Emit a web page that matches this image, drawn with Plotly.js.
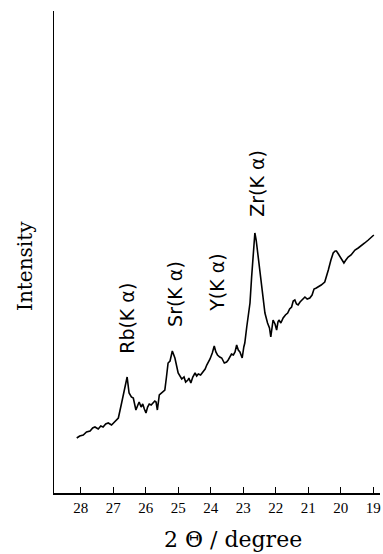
<!DOCTYPE html>
<html>
<head>
<meta charset="utf-8">
<script src="https://cdn.plot.ly/plotly-3.0.1.min.js"></script>
<style>html,body{margin:0;padding:0;background:#fff;}#chart{width:383px;height:554px;}</style>
</head>
<body>
<div id="chart"></div>
<script>
// 2θ (degree) values, high angle to low angle
const twoTheta = [
  28.12, 28.03, 27.92, 27.82, 27.71, 27.63, 27.56, 27.46, 27.38, 27.31, 27.23, 27.15, 27.05, 26.95,
  26.84, 26.74, 26.64, 26.57, 26.51, 26.44, 26.38, 26.30, 26.24, 26.20, 26.14, 26.09, 26.04, 25.99,
  25.94, 25.89, 25.83, 25.77, 25.72, 25.68, 25.64, 25.58, 25.48, 25.41, 25.36, 25.31, 25.25, 25.18,
  25.10, 25.00, 24.89, 24.82, 24.77, 24.70, 24.67, 24.61, 24.55, 24.48, 24.43, 24.38, 24.31, 24.23,
  24.17, 24.12, 24.07, 24.02, 23.95, 23.89, 23.84, 23.79, 23.72, 23.66, 23.58, 23.51, 23.46, 23.40,
  23.36, 23.30, 23.25, 23.20, 23.15, 23.10, 23.03, 22.98, 22.95, 22.89, 22.79, 22.74, 22.69, 22.64,
  22.60, 22.56, 22.49, 22.41, 22.33, 22.25, 22.19, 22.15, 22.11, 22.08, 22.02, 21.97, 21.93, 21.90,
  21.84, 21.77, 21.70, 21.63, 21.57, 21.51, 21.46, 21.41, 21.36, 21.31, 21.25, 21.20, 21.15, 21.10,
  21.03, 20.95, 20.88, 20.82, 20.75, 20.69, 20.60, 20.49, 20.43, 20.38, 20.30, 20.23, 20.17, 20.13,
  20.07, 20.02, 19.96, 19.90, 19.84, 19.77, 19.68, 19.56, 19.46, 19.36, 19.26, 19.15, 19.06, 18.98
];
// Intensity (arbitrary units)
const intensity = [
  55, 57, 58, 61, 62, 65, 66, 64, 67, 66, 69, 70, 68, 71,
  75, 90, 105, 116, 100, 96, 95, 83, 88, 91, 86, 89, 84, 80,
  86, 89, 88, 90, 92, 91, 83, 98, 101, 103, 116, 130, 132, 142,
  135, 120, 114, 116, 111, 113, 115, 110, 116, 120, 117, 119, 118, 121,
  124, 128, 131, 134, 140, 147, 141, 138, 136, 135, 130, 131, 133, 137,
  139, 138, 141, 148, 143, 141, 135, 146, 150, 166, 190, 216, 243, 260,
  253, 243, 223, 200, 180, 170, 165, 156, 166, 173, 169, 163, 171, 173,
  170, 175, 178, 180, 184, 186, 192, 193, 189, 188, 191, 193, 195, 196,
  194, 195, 198, 204, 205, 206, 208, 211, 217, 223, 233, 240, 242, 242,
  239, 236, 233, 230, 233, 236, 238, 243, 245, 248, 250, 253, 256, 258
];
// Peak labels
const peakLabels = ["Rb(K α)", "Sr(K α)", "Y(K α)", "Zr(K α)"];
const peakAngles = [26.58, 25.10, 23.81, 22.58];
const xTickValues = [28, 27, 26, 25, 24, 23, 22, 21, 20, 19];
const xTitle = "2 Θ / degree";
const yTitle = "Intensity";

const labelY = [175, 199, 210, 310];

const trace = {
  x: twoTheta,
  y: intensity,
  type: "scatter",
  mode: "lines",
  line: {color: "#000", width: 1.6},
  hoverinfo: "skip"
};

const annotations = peakLabels.map((t, i) => ({
  x: peakAngles[i], y: labelY[i], xref: "x", yref: "y",
  text: t, showarrow: false, textangle: -90,
  font: {family: "DejaVu Sans", size: 19, color: "#000"}
}));

// axis titles placed as annotations (paper coordinates)
const W = 383, H = 554, L = 54, R = 3, T = 11, B = 61;
const pw = W - L - R, ph = H - T - B;
annotations.push({
  text: xTitle, showarrow: false, xref: "paper", yref: "paper",
  x: (233 - L) / pw, y: -(539 - (H - B)) / ph, xanchor: "center", yanchor: "middle",
  font: {family: "DejaVu Serif", size: 22, color: "#000"}
});
annotations.push({
  text: yTitle, showarrow: false, xref: "paper", yref: "paper", textangle: -90,
  x: (25 - L) / pw, y: ((H - B) - 266) / ph, xanchor: "center", yanchor: "middle",
  font: {family: "DejaVu Serif", size: 20, color: "#000"}
});

const layout = {
  width: W, height: H,
  margin: {l: L, r: R, t: T, b: B},
  paper_bgcolor: "#fff", plot_bgcolor: "#fff",
  showlegend: false,
  xaxis: {
    range: [28.82, 18.79],
    tickvals: xTickValues,
    ticktext: xTickValues.map(String),
    ticks: "inside", ticklen: 6, tickwidth: 1.2, tickcolor: "#000",
    showline: true, linecolor: "#000", linewidth: 1.5,
    showgrid: false, zeroline: false,
    tickfont: {family: "Liberation Serif", size: 15, color: "#000"}
  },
  yaxis: {
    range: [0, 482],
    showticklabels: false, ticks: "",
    showline: true, linecolor: "#000", linewidth: 1.5,
    showgrid: false, zeroline: false
  },
  annotations: annotations
};

Plotly.newPlot("chart", [trace], layout, {displayModeBar: false, staticPlot: true});
</script>
</body>
</html>
